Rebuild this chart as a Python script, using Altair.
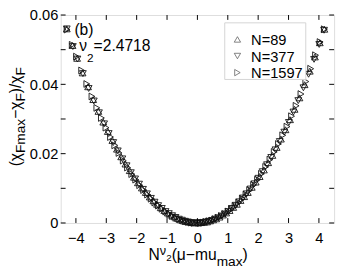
import altair as alt
import pandas as pd

FONT = "Liberation Sans"
INK = "#111111"

SERIES = ["N=89", "N=377", "N=1597"]
SHAPES = ["triangle-up", "triangle-down", "triangle-right"]

x89 = [-4.30, -4.11, -3.96, -3.78, -3.60, -3.43, -3.26, -3.10, -2.95, -2.80, -2.65,
       -2.51, -2.37, -2.23, -2.09, -1.96, -1.83, -1.70, -1.57, -1.45, -1.33, -1.21,
       -1.09, -0.98, -0.87, -0.76, -0.65, -0.55, -0.45, -0.35, -0.25, -0.16, -0.07,
       0.04, 0.13, 0.22, 0.32, 0.42, 0.52, 0.62, 0.73, 0.84, 0.95, 1.06,
       1.18, 1.30, 1.42, 1.54, 1.66, 1.79, 1.92, 2.05, 2.19, 2.33, 2.47,
       2.61, 2.75, 2.90, 3.05, 3.20, 3.36, 3.53, 3.70, 3.87, 4.03, 4.18]
y89 = [0.0560, 0.0512, 0.0475, 0.0433, 0.0393, 0.0356, 0.0322, 0.0291, 0.0264, 0.0238, 0.0213,
       0.0191, 0.0170, 0.0151, 0.0132, 0.0116, 0.0101, 0.0088, 0.0075, 0.0064, 0.0054, 0.0044,
       0.0036, 0.0029, 0.0023, 0.0018, 0.0013, 0.0009, 0.0006, 0.0004, 0.0002, 0.0001, 0.0000,
       0.0000, 0.0001, 0.0002, 0.0003, 0.0006, 0.0009, 0.0012, 0.0017, 0.0023, 0.0029, 0.0036,
       0.0045, 0.0054, 0.0065, 0.0076, 0.0088, 0.0103, 0.0118, 0.0134, 0.0153, 0.0174, 0.0195,
       0.0218, 0.0242, 0.0269, 0.0298, 0.0328, 0.0361, 0.0399, 0.0438, 0.0479, 0.0520, 0.0559]

x377 = [-4.30, -4.10, -3.95, -3.77, -3.58, -3.41, -3.24, -3.07, -2.92, -2.77, -2.62,
        -2.47, -2.33, -2.19, -2.05, -1.92, -1.79, -1.66, -1.53, -1.41, -1.29, -1.17,
        -1.05, -0.94, -0.83, -0.72, -0.61, -0.51, -0.41, -0.31, -0.21, -0.12, -0.03,
        0.01, 0.09, 0.18, 0.28, 0.38, 0.48, 0.58, 0.69, 0.80, 0.91, 1.02,
        1.14, 1.26, 1.38, 1.50, 1.62, 1.75, 1.88, 2.01, 2.15, 2.29, 2.43,
        2.57, 2.71, 2.86, 3.01, 3.16, 3.32, 3.49, 3.66, 3.84, 4.01, 4.17]
y377 = [0.0560, 0.0509, 0.0473, 0.0431, 0.0388, 0.0352, 0.0318, 0.0286, 0.0258, 0.0232, 0.0208,
        0.0185, 0.0165, 0.0145, 0.0127, 0.0112, 0.0097, 0.0084, 0.0071, 0.0060, 0.0050, 0.0042,
        0.0033, 0.0027, 0.0021, 0.0016, 0.0011, 0.0008, 0.0005, 0.0003, 0.0001, 0.0000, 0.0000,
        0.0000, 0.0000, 0.0001, 0.0003, 0.0005, 0.0007, 0.0011, 0.0015, 0.0020, 0.0026, 0.0033,
        0.0042, 0.0051, 0.0061, 0.0072, 0.0084, 0.0098, 0.0113, 0.0129, 0.0148, 0.0168, 0.0189,
        0.0211, 0.0235, 0.0262, 0.0290, 0.0320, 0.0353, 0.0390, 0.0429, 0.0472, 0.0515, 0.0556]

x1597 = [-4.29, -4.12, -3.98, -3.81, -3.64, -3.47, -3.31, -3.16, -3.01, -2.86, -2.72,
         -2.58, -2.44, -2.30, -2.16, -2.03, -1.90, -1.77, -1.64, -1.52, -1.40, -1.28,
         -1.16, -1.04, -0.93, -0.82, -0.71, -0.60, -0.50, -0.40, -0.30, -0.20, -0.11,
         0.10, 0.19, 0.28, 0.38, 0.48, 0.58, 0.68, 0.79, 0.90, 1.01, 1.12,
         1.24, 1.36, 1.48, 1.60, 1.72, 1.85, 1.98, 2.11, 2.25, 2.39, 2.53,
         2.67, 2.81, 2.95, 3.10, 3.25, 3.41, 3.57, 3.73, 3.89, 4.04, 4.18]
y1597 = [0.0558, 0.0514, 0.0480, 0.0440, 0.0401, 0.0365, 0.0332, 0.0303, 0.0275, 0.0248, 0.0224,
         0.0202, 0.0180, 0.0160, 0.0141, 0.0125, 0.0109, 0.0095, 0.0082, 0.0070, 0.0059, 0.0050,
         0.0041, 0.0033, 0.0026, 0.0020, 0.0015, 0.0011, 0.0008, 0.0005, 0.0003, 0.0001, 0.0000,
         0.0000, 0.0001, 0.0003, 0.0005, 0.0007, 0.0011, 0.0015, 0.0020, 0.0026, 0.0033, 0.0040,
         0.0049, 0.0059, 0.0070, 0.0082, 0.0095, 0.0110, 0.0125, 0.0142, 0.0162, 0.0183, 0.0205,
         0.0228, 0.0253, 0.0278, 0.0308, 0.0338, 0.0372, 0.0408, 0.0445, 0.0484, 0.0522, 0.0559]

X_TICKS = [-4, -3, -2, -1, 0, 1, 2, 3, 4]
Y_TICKS = [0, 0.01, 0.02, 0.03, 0.04, 0.05, 0.06]
Y_LABELS = [0, 0.02, 0.04, 0.06]

rows = []
for name, xs_, ys_ in zip(SERIES, [x89, x377, x1597], [y89, y377, y1597]):
    for a, b in zip(xs_, ys_):
        rows.append({"x": a, "y": b, "N": name})
df = pd.DataFrame(rows)

W, H = 280, 213
XS = alt.Scale(domain=[-4.5, 4.5], nice=False, zero=False)
YS = alt.Scale(domain=[0, 0.06], nice=False, zero=False)
AX = alt.Axis(values=X_TICKS, ticks=False, domain=False, grid=False, title=None,
              labelFontSize=15, labelFont=FONT, labelColor="black", labelPadding=8)
AY = alt.Axis(values=Y_LABELS, ticks=False, domain=False, grid=False, title=None,
              labelFontSize=15, labelFont=FONT, labelColor="black", labelPadding=3,
              labelExpr="datum.value == 0 ? '0' : format(datum.value, '.2f')")
SH = alt.Scale(domain=SERIES, range=SHAPES)

points = alt.Chart(df).mark_point(
    filled=False, size=48, strokeWidth=0.9, color=INK, clip=False, opacity=1
).encode(
    x=alt.X("x:Q", scale=XS, axis=AX),
    y=alt.Y("y:Q", scale=YS, axis=AY),
    shape=alt.Shape("N:N", scale=SH, legend=None),
)

xt = pd.DataFrame({"x": X_TICKS})
yt = pd.DataFrame({"y": Y_TICKS})
tick_x = alt.X("x:Q", scale=XS, axis=AX)
tick_y = alt.Y("y:Q", scale=YS, axis=AY)
bt = alt.Chart(xt).mark_rule(color="black", strokeWidth=1).encode(x=tick_x, y=alt.value(H), y2=alt.value(H - 5))
tt = alt.Chart(xt).mark_rule(color="black", strokeWidth=1).encode(x=tick_x, y=alt.value(0), y2=alt.value(5))
lt = alt.Chart(yt).mark_rule(color="black", strokeWidth=1).encode(y=tick_y, x=alt.value(0), x2=alt.value(5))
rt = alt.Chart(yt).mark_rule(color="black", strokeWidth=1).encode(y=tick_y, x=alt.value(W), x2=alt.value(W - 5))

one = pd.DataFrame({"a": [0]})

def txt(s, x, y, size, angle=0, align="left", baseline="alphabetic"):
    kw = dict(text=s, fontSize=size, font=FONT, color="black", align=align, baseline=baseline)
    if angle:
        kw["angle"] = angle
    return alt.Chart(one).mark_text(**kw).encode(x=alt.value(x), y=alt.value(y))

CW = {"(": 0.333, ")": 0.333, "/": 0.278, "−": 0.584, "F": 0.611, "m": 0.833, "a": 0.556,
      "x": 0.5, "χ": 0.52, "N": 0.722, "ν": 0.5, "2": 0.556, "μ": 0.576, "u": 0.556,
      "=": 0.584, ".": 0.278, "4": 0.556, "7": 0.556, "1": 0.556, "8": 0.556}

def width(s, size):
    return sum(CW.get(c, 0.556) for c in s) * size

layers = []

# y title pieces, rotated (reads bottom to top)
ytitle = [("(χ", 16, 0), ("Fmax", 14, 4), ("−χ", 16, 0), ("F", 14, 4), (")/χ", 16, 0), ("F", 14, 4)]
ypos = 155
for s, fs, sh in ytitle:
    layers.append(txt(s, -41 + sh, ypos, fs, angle=270))
    ypos -= width(s, fs)

# x title pieces
xtitle = [("N", 16, 251), ("ν", 13, 246), ("2", 10, 252), ("(μ−mu", 16, 251), ("max", 14, 257), (")", 16, 251)]
xpos = 90
for s, fs, base in xtitle:
    layers.append(txt(s, xpos, base, fs))
    xpos += width(s, fs)

# annotations
layers.append(txt("(b)", 14, 20, 16))
ann = [("ν", 16, 37), ("2", 12, 48), ("=2.4718", 16, 37)]
apos = 19
for s, fs, base in ann:
    layers.append(txt(s, apos, base, fs))
    apos += width(s, fs)

# legend
box = alt.Chart(one).mark_rect(fill="white", stroke="#d4d4d4", strokeWidth=1).encode(
    x=alt.value(168), x2=alt.value(251), y=alt.value(8), y2=alt.value(66))
legend_layers = [box]
for i, (name, shp) in enumerate(zip(SERIES, SHAPES)):
    ry = 25 + 17 * i
    legend_layers.append(
        alt.Chart(one).mark_point(filled=False, size=42, strokeWidth=0.75, color=INK, shape=shp)
        .encode(x=alt.value(181), y=alt.value(ry)))
    legend_layers.append(txt(name, 195, ry + 1, 15, baseline="middle"))

chart = alt.layer(points, bt, tt, lt, rt, *legend_layers, *layers).properties(
    width=W, height=H,
    autosize=alt.AutoSizeParams(type="none"),
    padding={"left": 54, "top": 4, "right": 4, "bottom": 46},
).configure_view(stroke="black", strokeWidth=1).configure(background="white")

chart.save("out.html", embed_options={"renderer": "svg", "actions": False})
